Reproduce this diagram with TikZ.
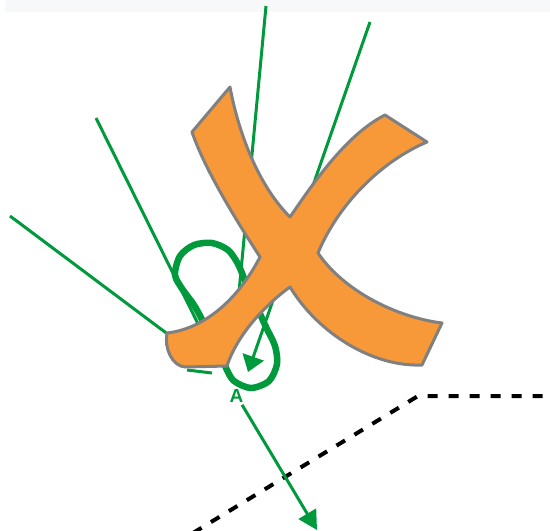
\documentclass[tikz,border=0pt]{standalone}
\usepackage{fontspec}
\setmainfont{Liberation Sans}
\usetikzlibrary{arrows.meta}
\definecolor{rgreen}{RGB}{0,154,61}
\definecolor{xorange}{RGB}{247,153,56}
\definecolor{xgray}{RGB}{128,128,128}
\definecolor{topband}{RGB}{247,248,250}
\begin{document}
\begin{tikzpicture}[x=1pt,y=-1pt,
  ray/.style={draw=rgreen,line width=3pt},
  loopline/.style={draw=rgreen,line width=6.5pt},
  xshape/.style={fill=xorange,draw=xgray,line width=3pt,line join=round},
  dashline/.style={draw=black,line width=4pt,dash pattern=on 10pt off 11pt},
  lbl/.style={text=rgreen,font=\fontsize{19}{19}\selectfont\bfseries,inner sep=0pt}]
\useasboundingbox (0,0) rectangle (550,531);
\fill[topband] (5,0) rectangle (550,12);
% ray coordinates
\coordinate (s1) at (10,216);
\coordinate (s2) at (96,118);
\coordinate (s3) at (266,6);
\coordinate (s4) at (370,22);
\coordinate (e1) at (205,362);
\coordinate (e2) at (215,358);
\coordinate (e3) at (234,345);
\coordinate (t4) at (248,372);
\coordinate (b1) at (187,370);
\coordinate (b2) at (212,373);
\coordinate (out) at (317,530);
% dashed line
\coordinate (d1) at (193,533);
\coordinate (d2) at (418,396);
\coordinate (d3) at (552,396);
\draw[dashline] (d1) -- (d2) -- (d3);
% rays
\draw[ray] (s1) -- (e1);
\draw[ray] (s2) -- (e2);
\draw[ray] (s3) -- (e3);
\draw[ray] (b1) -- (b2);
\draw[ray,-{Triangle[length=16pt,width=22pt]}] (s4) -- (t4);
% loop
\draw[loopline] plot[smooth cycle] coordinates {
  (175,275) (180,256) (194,245) (212,243) (228,250) (238,264) (246,283)
  (256,305) (266,327) (275,346) (277,364) (269,381) (251,388) (234,381)
  (226,368) (218,350) (206,327) (194,305) (183,290)};
% the X
\draw[xshape] (192,132) -- (230,87)
  .. controls (237,125) and (255,182) .. (290,217)
  .. controls (310,188) and (345,135) .. (385,115)
  -- (427,142)
  .. controls (380,162) and (338,205) .. (318,253)
  .. controls (343,290) and (395,317) .. (442,323)
  -- (422,365)
  .. controls (372,367) and (318,333) .. (290,287)
  .. controls (265,305) and (237,335) .. (227,366)
  -- (185,367) .. controls (172,366) and (164,348) .. (167,333)
  .. controls (210,328) and (242,292) .. (260,257)
  .. controls (236,220) and (205,170) .. (192,132) -- cycle;
% label and outgoing ray
\node[lbl] (A) at (236.5,395.5) {A};
\draw[ray,shorten <=3pt,-{Triangle[length=19pt,width=20pt]}] (A) -- (out);
\end{tikzpicture}
\end{document}
